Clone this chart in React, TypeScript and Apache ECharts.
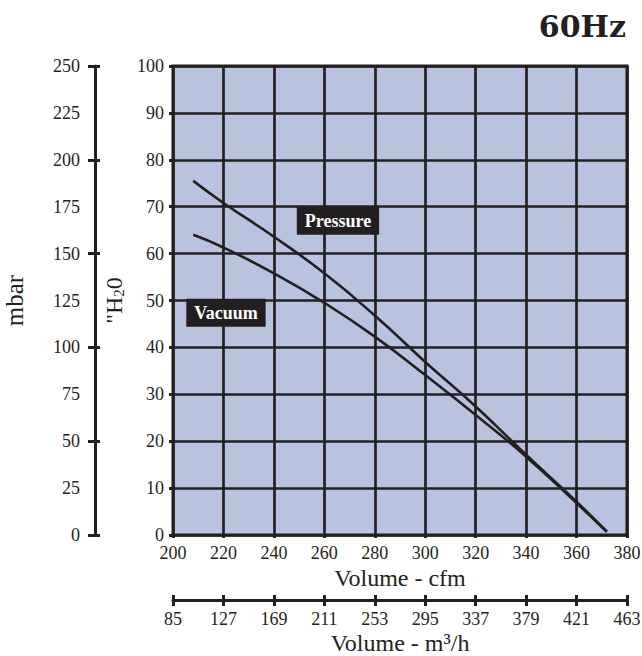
import React, { useEffect, useRef } from "react";
import * as echarts from "echarts";

// ---- Data ----
const cfmPoints = [208, 220, 240, 260, 280, 300, 320, 340, 360, 372];
const pressureValues = [75.5, 70.8, 63.6, 55.8, 46.8, 36.9, 27.4, 17.1, 7.1, 0.7];
const vacuumValues = [64.0, 61.3, 55.8, 49.5, 42.3, 34.1, 25.6, 16.7, 6.8, 0.7];

const seriesNames = ["Pressure", "Vacuum"];
// label anchor positions in data units [cfm, "H2O]
const labelAnchors = [
  [265.4, 67.0],
  [221.0, 47.4],
];

const cfmRange = [200, 380, 20];
const inH2ORange = [0, 100, 10];
const mbarRange = [0, 250, 25, 50];
const m3hRange = [85, 463, 42];

const INK = "#231f20";
const FILL = "#b9c3de";
const SERIF = "Liberation Serif";

export default function App() {
  const ref = useRef<HTMLDivElement>(null);

  useEffect(() => {
    if (!ref.current) return;
    const chart = echarts.init(ref.current, undefined, { renderer: "svg" });

    const labelStyle = { fontFamily: SERIF, fontSize: 18, color: INK };
    const nameStyle = { fontFamily: SERIF, fontSize: 24, color: INK, lineHeight: 22 };

    const tickAxisY = (inside: boolean, length: number) => ({
      type: "value",
      gridIndex: 0,
      position: "left",
      offset: 78,
      min: mbarRange[0],
      max: mbarRange[1],
      interval: mbarRange[3],
      axisLine: { show: false, onZero: false },
      axisLabel: { show: false },
      splitLine: { show: false },
      axisTick: { show: true, inside, length, lineStyle: { color: INK, width: 3 } },
    });

    const tickAxisX = (inside: boolean, length: number) => ({
      type: "value",
      gridIndex: 0,
      position: "bottom",
      offset: 65,
      min: m3hRange[0],
      max: m3hRange[1],
      interval: m3hRange[2],
      axisLine: { show: false, onZero: false },
      axisLabel: { show: false },
      splitLine: { show: false },
      axisTick: { show: true, inside, length, lineStyle: { color: INK, width: 3 } },
    });

    const option: any = {
      animation: false,
      backgroundColor: "#ffffff",
      title: {
        text: "60Hz",
        right: 11,
        top: 6,
        textStyle: {
          fontFamily: "DejaVu Serif",
          fontWeight: "bold",
          fontSize: 30,
          color: INK,
        },
      },
      grid: {
        left: 173,
        top: 66,
        width: 454,
        height: 469,
        show: true,
        backgroundColor: FILL,
        borderColor: INK,
        borderWidth: 3,
        containLabel: false,
        outerBoundsMode: "none",
      },
      xAxis: [
        {
          type: "value",
          gridIndex: 0,
          position: "bottom",
          min: cfmRange[0],
          max: cfmRange[1],
          interval: cfmRange[2],
          axisLine: { show: false, onZero: false },
          axisTick: { show: true, length: 3, lineStyle: { color: INK, width: 3 } },
          axisLabel: { ...labelStyle, margin: 9 },
          splitLine: { show: true, lineStyle: { color: INK, width: 2.7 } },
          name: "Volume - cfm",
          nameLocation: "middle",
          nameGap: 32,
          nameMoveOverlap: false,
          nameTextStyle: nameStyle,
        },
        {
          type: "value",
          gridIndex: 0,
          position: "bottom",
          offset: 65,
          min: m3hRange[0],
          max: m3hRange[1],
          interval: m3hRange[2],
          axisLine: { show: true, onZero: false, lineStyle: { color: INK, width: 3 } },
          axisTick: { show: false },
          axisLabel: { ...labelStyle, margin: 10 },
          splitLine: { show: false },
          name: "Volume - m³/h",
          nameLocation: "middle",
          nameGap: 32,
          nameMoveOverlap: false,
          nameTextStyle: nameStyle,
        },
        tickAxisX(false, 6),
        tickAxisX(true, 5),
      ],
      yAxis: [
        {
          type: "value",
          gridIndex: 0,
          position: "left",
          min: inH2ORange[0],
          max: inH2ORange[1],
          interval: inH2ORange[2],
          axisLine: { show: false, onZero: false },
          axisTick: { show: true, length: 4, lineStyle: { color: INK, width: 3 } },
          axisLabel: { ...labelStyle, margin: 9 },
          splitLine: { show: true, lineStyle: { color: INK, width: 2.7 } },
          name: '"H{sub|2}0',
          nameLocation: "middle",
          nameRotate: 90,
          nameGap: 38,
          nameTextStyle: {
            fontFamily: SERIF,
            fontSize: 24,
            color: INK,
            rich: {
              sub: {
                fontFamily: SERIF,
                fontSize: 15,
                color: INK,
                verticalAlign: "bottom",
                padding: [8, 0, 0, 0],
              },
            },
          },
        },
        {
          type: "value",
          gridIndex: 0,
          position: "left",
          offset: 78,
          min: mbarRange[0],
          max: mbarRange[1],
          interval: mbarRange[2],
          axisLine: { show: true, onZero: false, lineStyle: { color: INK, width: 3 } },
          axisTick: { show: false },
          axisLabel: { ...labelStyle, margin: 15 },
          splitLine: { show: false },
          name: "mbar",
          nameLocation: "middle",
          nameRotate: 90,
          nameGap: 68,
          nameTextStyle: { fontFamily: SERIF, fontSize: 25, color: INK },
        },
        tickAxisY(false, 7),
        tickAxisY(true, 5),
      ],
      series: [
        {
          name: seriesNames[0],
          type: "line",
          xAxisIndex: 0,
          yAxisIndex: 0,
          smooth: 0.5,
          symbol: "none",
          lineStyle: { color: INK, width: 2.6 },
          data: cfmPoints.map((x, i) => [x, pressureValues[i]]),
          z: 5,
        },
        {
          name: seriesNames[1],
          type: "line",
          xAxisIndex: 0,
          yAxisIndex: 0,
          smooth: 0.5,
          symbol: "none",
          lineStyle: { color: INK, width: 2.6 },
          data: cfmPoints.map((x, i) => [x, vacuumValues[i]]),
          z: 5,
        },
        {
          type: "scatter",
          xAxisIndex: 0,
          yAxisIndex: 0,
          symbolSize: 1,
          itemStyle: { color: INK, opacity: 1 },
          z: 10,
          data: seriesNames.map((n, i) => ({ name: n, value: labelAnchors[i] })),
          label: {
            show: true,
            position: "inside",
            formatter: (p: any) => p.name,
            backgroundColor: INK,
            color: "#ffffff",
            opacity: 1,
            fontFamily: SERIF,
            fontWeight: "bold",
            fontSize: 18,
            padding: [6, 8, 4, 8],
          },
        },
      ],
    };

    chart.setOption(option);
    return () => chart.dispose();
  }, []);

  return (
    <div
      ref={ref}
      style={{ position: "fixed", left: 0, top: 0, width: 642, height: 656 }}
    />
  );
}
